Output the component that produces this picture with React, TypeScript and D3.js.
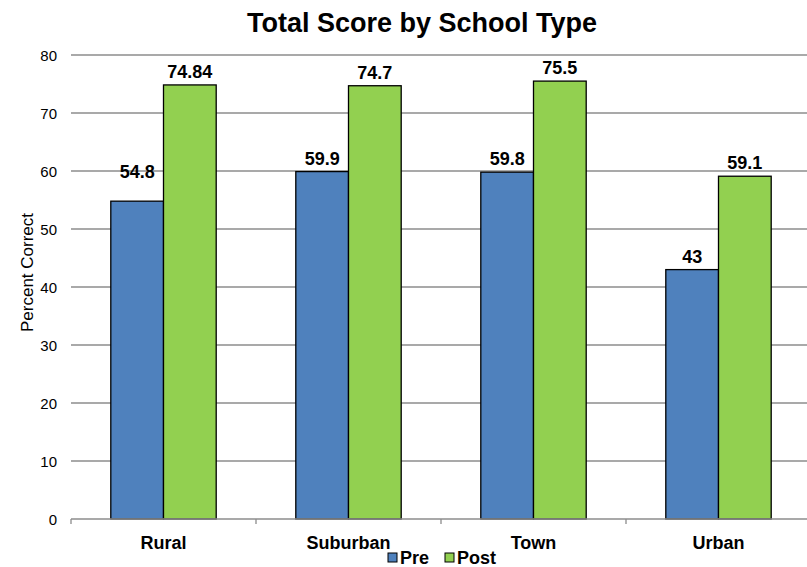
import React from "react";
import * as d3 from "d3";

const categories = ["Rural", "Suburban", "Town", "Urban"];
const preValues = [54.8, 59.9, 59.8, 43];
const postValues = [74.84, 74.7, 75.5, 59.1];
const preLabels = ["54.8", "59.9", "59.8", "43"];
const postLabels = ["74.84", "74.7", "75.5", "59.1"];
const yTicks = [0, 10, 20, 30, 40, 50, 60, 70, 80];
const seriesNames = ["Pre", "Post"];
const seriesColors = ["#4F81BD", "#92D050"];

const W = 807;
const H = 567;
const FONT = "'Liberation Sans', Arial, Helvetica, sans-serif";

export default function App() {
  const left = 71;
  const bandW = 185;
  const x = d3
    .scaleBand<string>()
    .domain(categories)
    .range([left, left + bandW * categories.length])
    .paddingInner(0)
    .paddingOuter(0);
  const y = d3.scaleLinear().domain([0, 80]).range([519, 55]);
  const barW = 52.7;

  const series = [preValues, postValues];
  const labels = [preLabels, postLabels];

  return (
    <svg
      width={W}
      height={H}
      style={{ position: "absolute", left: 0, top: 0, background: "#fff" }}
      fontFamily={FONT}
    >
      <rect x={0} y={0} width={W} height={H} fill="#fff" />
      <text x={422} y={32} textAnchor="middle" fontSize={27} fontWeight="bold" fill="#000">
        Total Score by School Type
      </text>
      {yTicks.map((t) => (
        <g key={t}>
          {t > 0 && (
            <line x1={left} x2={W} y1={y(t)} y2={y(t)} stroke="#8c8c8c" strokeWidth={1.3} />
          )}
          <text x={57} y={y(t) + 5.5} textAnchor="end" fontSize={15} fill="#000">
            {t}
          </text>
        </g>
      ))}
      <text
        transform={`translate(33,${272.5}) rotate(-90)`}
        textAnchor="middle"
        fontSize={17}
        fill="#000"
      >
        Percent Correct
      </text>
      {categories.map((c, i) => {
        const cx = (x(c) as number) + x.bandwidth() / 2;
        return (
          <g key={c}>
            {series.map((vals, s) => {
              const bx = cx - barW + s * barW;
              const top = y(vals[i]);
              const labelY = s === 0 && i === 0 ? top - 23 : top - 7;
              return (
                <g key={s}>
                  <rect
                    x={bx}
                    y={top}
                    width={barW}
                    height={y(0) - top}
                    fill={seriesColors[s]}
                    stroke="#000"
                    strokeWidth={1.3}
                  />
                  <text
                    x={bx + barW / 2}
                    y={labelY}
                    textAnchor="middle"
                    fontSize={18}
                    fontWeight="bold"
                    fill="#000"
                  >
                    {labels[s][i]}
                  </text>
                </g>
              );
            })}
            <text x={cx} y={549} textAnchor="middle" fontSize={18} fontWeight="bold" fill="#000">
              {c}
            </text>
          </g>
        );
      })}
      <line x1={left} x2={W} y1={y(0)} y2={y(0)} stroke="#8c8c8c" strokeWidth={1.3} />
      {d3.range(categories.length + 1).map((k) => (
        <line
          key={k}
          x1={left + k * bandW}
          x2={left + k * bandW}
          y1={y(0)}
          y2={y(0) + 5}
          stroke="#8c8c8c"
          strokeWidth={1.3}
        />
      ))}
      {seriesNames.map((n, s) => {
        const lx = s === 0 ? 388 : 445;
        return (
          <g key={n}>
            <rect x={lx} y={553} width={9} height={9} fill={seriesColors[s]} stroke="#000" strokeWidth={1} />
            <text x={lx + 12} y={564} fontSize={18} fontWeight="bold" fill="#000">
              {n}
            </text>
          </g>
        );
      })}
    </svg>
  );
}
